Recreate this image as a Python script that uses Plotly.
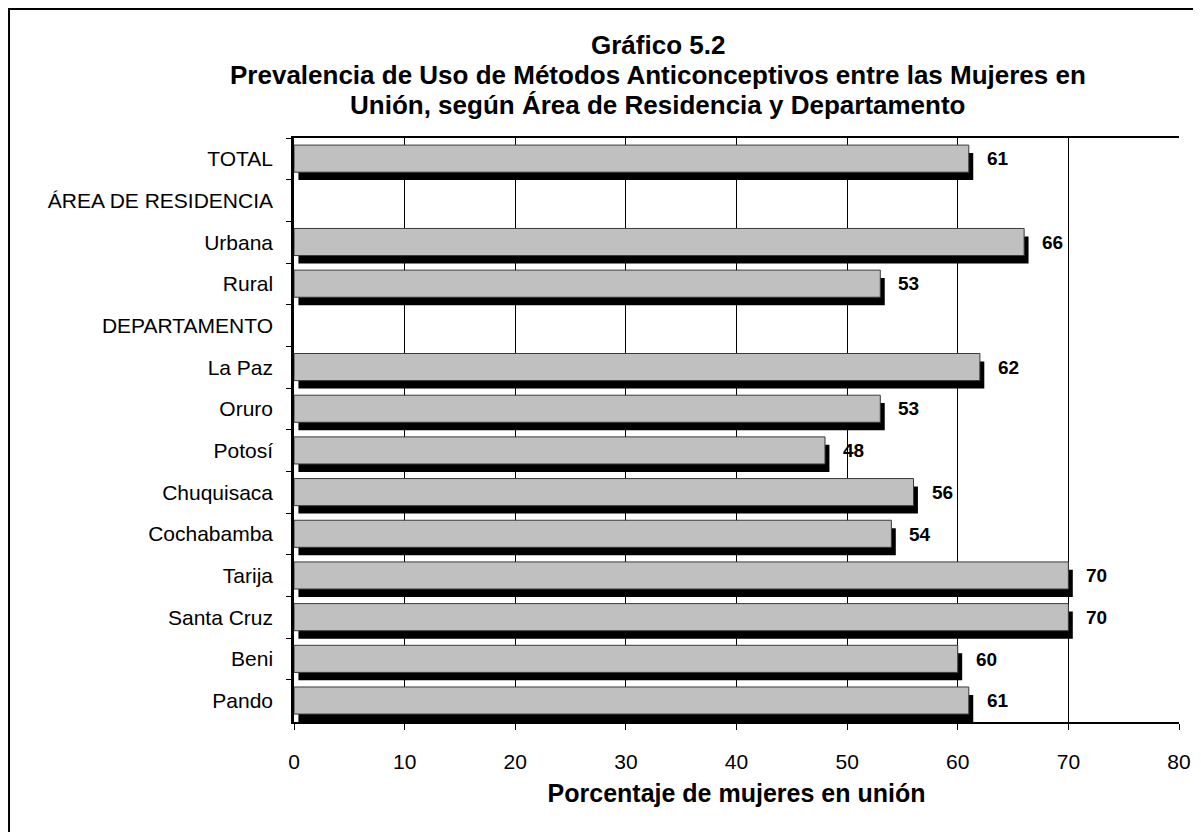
import plotly.graph_objects as go

# categorías (eje vertical, de arriba hacia abajo)
categorias = ['TOTAL', 'ÁREA DE RESIDENCIA', 'Urbana', 'Rural', 'DEPARTAMENTO',
              'La Paz', 'Oruro', 'Potosí', 'Chuquisaca', 'Cochabamba',
              'Tarija', 'Santa Cruz', 'Beni', 'Pando']
# porcentaje de mujeres en unión que usan métodos
valores = [61, None, 66, 53, None, 62, 53, 48, 56, 54, 70, 70, 60, 61]
etiquetas = ['61', '', '66', '53', '', '62', '53', '48', '56', '54', '70', '70', '60', '61']
ticks_x = [0, 10, 20, 30, 40, 50, 60, 70, 80]

titulo = ['Gráfico 5.2',
          'Prevalencia de Uso de Métodos Anticonceptivos entre las Mujeres en',
          'Unión, según Área de Residencia y Departamento']

fuente = 'Arial, Liberation Sans, sans-serif'

fig = go.Figure()

# sombra negra de cada barra
fig.add_trace(go.Bar(
    y=categorias, x=valores, base=0.4, orientation='h',
    width=0.65, offset=-0.14,
    marker=dict(color='black', line=dict(width=0)),
    hoverinfo='skip', showlegend=False,
))

# barras grises
fig.add_trace(go.Bar(
    y=categorias, x=valores, orientation='h',
    width=0.65, offset=-0.33,
    marker=dict(color='#c0c0c0', line=dict(color='#3a3a3a', width=1)),
    showlegend=False,
))

# valores junto a las barras
for cat, v, txt in zip(categorias, valores, etiquetas):
    if v is None:
        continue
    fig.add_annotation(x=v, y=cat, text='<b>' + txt + '</b>', showarrow=False,
                       xanchor='left', xshift=16,
                       font=dict(family=fuente, size=19, color='black'))

# título en tres líneas
for linea, yy in zip(titulo, [1.1592, 1.1079, 1.0565]):
    fig.add_annotation(x=0.4113, y=yy, xref='paper', yref='paper',
                       text='<b>' + linea + '</b>', showarrow=False,
                       xanchor='center', yanchor='middle',
                       font=dict(family=fuente, size=26, color='black'))

fig.update_layout(
    width=1185, height=824,
    margin=dict(l=286, r=14, t=130, b=110, autoexpand=False),
    paper_bgcolor='white', plot_bgcolor='white',
    barmode='overlay',
    font=dict(family=fuente, color='black'),
    xaxis=dict(range=[0, 80], tickvals=ticks_x, showgrid=True, gridcolor='black',
               gridwidth=1, zeroline=False, showline=True, linecolor='black',
               linewidth=1.5, mirror=True, ticks='outside', ticklen=6,
               tickcolor='black', ticklabelstandoff=14, automargin=False,
               tickfont=dict(family=fuente, size=21, color='black'),
               title=dict(text='<b>Porcentaje de mujeres en unión</b>', standoff=13,
                          font=dict(family=fuente, size=25, color='black'))),
    yaxis=dict(categoryorder='array', categoryarray=categorias, autorange='reversed',
               showgrid=False, showline=True, linecolor='black', linewidth=2.5,
               ticks='outside', ticklen=5, tickcolor='black', tickson='boundaries',
               ticklabelstandoff=14, automargin=False,
               tickfont=dict(family=fuente, size=21, color='black')),
)

# marco exterior del gráfico
fig.add_shape(type='rect', xref='paper', yref='paper',
              x0=-0.322, x1=1.05, y0=-0.22, y1=1.2209,
              line=dict(color='black', width=2), fillcolor='rgba(0,0,0,0)',
              layer='above')

fig.write_html('out.html')
